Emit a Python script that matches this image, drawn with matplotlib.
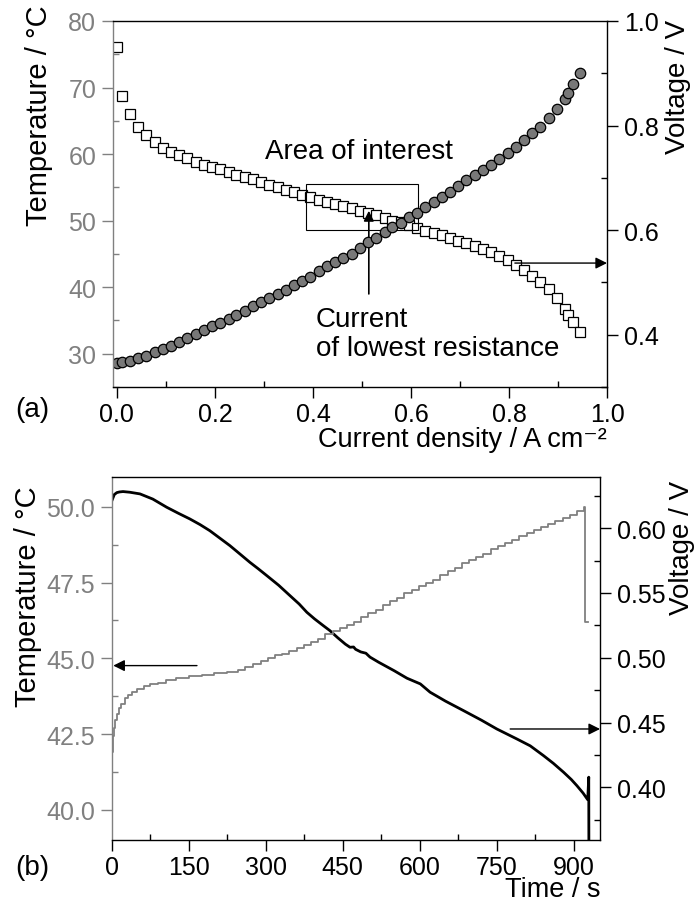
import matplotlib
matplotlib.use("Agg")
import matplotlib.pyplot as plt
from matplotlib.ticker import MultipleLocator, FormatStrFormatter
from matplotlib.patches import Rectangle

plt.rcParams['font.family'] = ['Liberation Sans', 'DejaVu Sans']

GRAY = '#808080'

# (a) polarisation curve: current density, cell temperature, cell voltage
current = [0.000, 0.010, 0.027, 0.043, 0.060, 0.077, 0.094, 0.110, 0.127, 0.144,
           0.161, 0.177, 0.194, 0.211, 0.228, 0.244, 0.261, 0.278, 0.295, 0.311,
           0.328, 0.345, 0.362, 0.378, 0.395, 0.412, 0.429, 0.445, 0.462, 0.479,
           0.495, 0.512, 0.529, 0.546, 0.562, 0.579, 0.596, 0.613, 0.629, 0.646,
           0.663, 0.680, 0.696, 0.713, 0.730, 0.747, 0.763, 0.780, 0.797, 0.814,
           0.830, 0.847, 0.864, 0.881, 0.897, 0.914, 0.921, 0.931, 0.945]
temperature = [28.6, 28.8, 28.95, 29.3, 29.65, 30.2, 30.7, 31.2, 31.7, 32.3,
               32.9, 33.5, 34.1, 34.6, 35.2, 35.8, 36.4, 37.1, 37.7, 38.3,
               38.9, 39.6, 40.4, 41.0, 41.6, 42.4, 43.2, 43.8, 44.4, 45.0,
               45.9, 46.8, 47.4, 48.3, 49.1, 49.7, 50.5, 51.2, 52.1, 52.8,
               53.5, 54.3, 55.2, 56.1, 56.8, 57.6, 58.3, 59.2, 60.1, 61.1,
               62.1, 63.1, 64.1, 65.4, 66.8, 68.3, 69.2, 70.6, 72.2]
voltage = [0.950, 0.857, 0.822, 0.798, 0.781, 0.769, 0.758, 0.750, 0.744, 0.737,
           0.731, 0.725, 0.720, 0.716, 0.711, 0.706, 0.701, 0.697, 0.692, 0.687,
           0.682, 0.677, 0.672, 0.667, 0.663, 0.658, 0.653, 0.650, 0.647, 0.643,
           0.637, 0.633, 0.628, 0.623, 0.618, 0.615, 0.610, 0.604, 0.599, 0.594,
           0.590, 0.585, 0.580, 0.576, 0.569, 0.564, 0.559, 0.551, 0.543, 0.534,
           0.524, 0.513, 0.500, 0.488, 0.470, 0.449, 0.438, 0.425, 0.405]

# (b) transient: temperature (stepwise logger) and voltage over time
temp_time = [0, 1, 2, 3, 5, 7, 10, 14, 19, 25, 32, 40, 50, 62, 75, 90, 105, 125,
             150, 175, 200, 225, 245, 260, 275, 290, 304, 318, 332, 346, 360, 374,
             388, 402, 416, 430, 444, 458, 472, 486, 500, 514, 528, 542, 556, 570,
             584, 598, 612, 626, 640, 654, 668, 682, 696, 710, 724, 738, 752, 766,
             780, 794, 808, 822, 836, 850, 864, 878, 892, 906, 920, 922, 927]
temp_vals = [41.5, 41.9, 42.2, 42.45, 42.7, 42.95, 43.15, 43.35, 43.5, 43.7, 43.8,
             43.9, 44.0, 44.1, 44.15, 44.2, 44.3, 44.35, 44.4, 44.45, 44.5, 44.55,
             44.6, 44.7, 44.8, 44.9, 45.0, 45.1, 45.15, 45.25, 45.35, 45.45, 45.55,
             45.65, 45.8, 45.9, 46.0, 46.1, 46.2, 46.35, 46.5, 46.6, 46.75, 46.9,
             47.0, 47.15, 47.25, 47.4, 47.5, 47.6, 47.75, 47.9, 48.0, 48.15, 48.25,
             48.35, 48.45, 48.6, 48.7, 48.8, 48.9, 49.05, 49.15, 49.25, 49.35,
             49.45, 49.55, 49.65, 49.75, 49.85, 50.0, 46.2, 46.2]
volt_time = [0, 5, 10, 15, 22, 35, 55, 80, 107, 130, 152, 172, 191, 210, 230, 250,
             269, 285, 302, 325, 347, 365, 380, 395, 412, 425, 440, 455, 464, 471,
             475, 485, 495, 500, 503, 520, 550, 575, 601, 620, 650, 685, 720, 750,
             789, 815, 841, 860, 880, 895, 906, 918, 927, 929, 929.5]
volt_vals = [0.621, 0.626, 0.6275, 0.628, 0.6283, 0.6278, 0.6265, 0.6225, 0.6162,
             0.6115, 0.6072, 0.6028, 0.5981, 0.5925, 0.5866, 0.5800, 0.5737, 0.5688,
             0.5634, 0.5560, 0.5480, 0.5415, 0.5351, 0.5300, 0.5248, 0.5209, 0.5155,
             0.5105, 0.5081, 0.5083, 0.5065, 0.5045, 0.5035, 0.5016, 0.5005, 0.4965,
             0.4900, 0.4842, 0.4798, 0.4734, 0.4665, 0.4592, 0.4518, 0.4450, 0.4373,
             0.4320, 0.4244, 0.4185, 0.4116, 0.4060, 0.4012, 0.3955, 0.3904, 0.4078,
             0.30]

TICK_FS = 18
LABEL_FS = 20
XLABEL_FS = 19.5
TLABEL_FS = 21   # temperature axis labels
VLABEL_FS = 20   # voltage axis labels


def style_axes(ax_l, ax_r, xmajor, xminor, lmajor, lminor, rmajor, rminor):
    # left axis grey, right axis black, ticks out for major / in for minor
    ax_l.set_zorder(ax_r.get_zorder() + 1)
    ax_l.patch.set_visible(False)
    ax_l.spines['right'].set_visible(False)
    for s in ('top', 'bottom', 'left'):
        ax_r.spines[s].set_visible(False)
    ax_l.spines['left'].set_color(GRAY)
    for sp in list(ax_l.spines.values()) + list(ax_r.spines.values()):
        sp.set_linewidth(1.0)

    ax_l.xaxis.set_major_locator(MultipleLocator(xmajor))
    ax_l.xaxis.set_minor_locator(MultipleLocator(xminor))
    ax_l.yaxis.set_major_locator(MultipleLocator(lmajor))
    ax_l.yaxis.set_minor_locator(MultipleLocator(lminor))
    ax_r.yaxis.set_major_locator(MultipleLocator(rmajor))
    ax_r.yaxis.set_minor_locator(MultipleLocator(rminor))

    ax_l.tick_params(axis='x', which='major', direction='out', length=8, width=1,
                     top=False, labelsize=TICK_FS, pad=3)
    ax_l.tick_params(axis='x', which='minor', direction='in', length=4, width=1,
                     top=False)
    ax_r.tick_params(axis='x', which='both', direction='in', length=4, width=1,
                     bottom=False, top=True, labelbottom=False, labeltop=False)
    ax_l.tick_params(axis='y', which='major', direction='out', length=8, width=1,
                     colors=GRAY, labelsize=TICK_FS, pad=4, right=False)
    ax_l.tick_params(axis='y', which='minor', direction='in', length=4, width=1,
                     colors=GRAY, right=False)
    ax_r.tick_params(axis='y', which='major', direction='out', length=8, width=1,
                     labelsize=TICK_FS, pad=4, left=False)
    ax_r.tick_params(axis='y', which='minor', direction='in', length=4, width=1,
                     left=False)


fig = plt.figure(figsize=(6.97, 9.04), dpi=100)

# ---------------- (a) ----------------
ax1 = fig.add_axes([0.1621, 0.5708, 0.7088, 0.4049])
ax2 = ax1.twinx()
style_axes(ax1, ax2, 0.2, 0.1, 10, 5, 0.2, 0.1)

ax2.plot(current, voltage, ls='none', marker='s', ms=6.5, mfc='white',
         mec='black', mew=0.9)
ax1.plot(current, temperature, ls='none', marker='o', ms=7.5, mfc='#787878',
         mec='black', mew=0.9)

ax1.set_xlim(-0.008, 1.0)
ax1.set_ylim(25, 80)
ax2.set_ylim(0.3, 1.0)
ax1.xaxis.set_major_formatter(FormatStrFormatter('%.1f'))
ax2.yaxis.set_major_formatter(FormatStrFormatter('%.1f'))

ax1.set_xlabel('Current density / A cm⁻²', fontsize=XLABEL_FS, loc='right')
ax1.xaxis.set_label_coords(1.0, -0.106)
ax1.set_ylabel('Temperature / °C', fontsize=TLABEL_FS, loc='top')
ax1.yaxis.set_label_coords(-0.121, 1.046)
ax2.set_ylabel('Voltage / V', fontsize=VLABEL_FS, loc='top')
ax2.yaxis.set_label_coords(1.117, 1.005)

# area of interest box and annotations (voltage axis coordinates)
ax2.add_patch(Rectangle((0.386, 0.600), 0.614 - 0.386, 0.688 - 0.600,
                        fill=False, ec='black', lw=0.8, zorder=3))
ax2.text(0.3077, 0.645, 'Area of interest', transform=ax2.transAxes,
         fontsize=LABEL_FS, va='center', ha='left')
ax2.text(0.411, 0.145, 'Current\nof lowest resistance', transform=ax2.transAxes,
         fontsize=LABEL_FS, va='center', ha='left', linespacing=1.15)
ax2.annotate('', xy=(0.514, 0.637), xytext=(0.514, 0.478),
             arrowprops=dict(arrowstyle='-|>', color='black', lw=1.2,
                             shrinkA=0, shrinkB=0, mutation_scale=15))
ax2.annotate('', xy=(1.0, 0.537), xytext=(0.812, 0.537),
             arrowprops=dict(arrowstyle='-|>', color='black', lw=1,
                             shrinkA=0, shrinkB=0, mutation_scale=17))

fig.text(15 / 697, 1 - 410 / 904, '(a)', fontsize=LABEL_FS, va='center', ha='left')

# ---------------- (b) ----------------
ax3 = fig.add_axes([0.1603, 0.0697, 0.7006, 0.4019])
ax4 = ax3.twinx()
style_axes(ax3, ax4, 150, 75, 2.5, 1.25, 0.05, 0.025)

ax3.plot(temp_time, temp_vals, color=GRAY, lw=1.3, drawstyle='steps-post')
ax4.plot(volt_time, volt_vals, color='black', lw=2.0)

ax3.set_xlim(0, 951)
ax3.set_ylim(39, 51)
ax4.set_ylim(0.3593, 0.6398)
ax3.yaxis.set_major_formatter(FormatStrFormatter('%.1f'))
ax4.yaxis.set_major_formatter(FormatStrFormatter('%.2f'))

ax3.set_xlabel('Time / s', fontsize=XLABEL_FS, loc='right')
ax3.xaxis.set_label_coords(1.0, -0.100)
ax3.set_ylabel('Temperature / °C', fontsize=TLABEL_FS, loc='top')
ax3.yaxis.set_label_coords(-0.143, 0.975)
ax4.set_ylabel('Voltage / V', fontsize=VLABEL_FS, loc='top')
ax4.yaxis.set_label_coords(1.142, 0.99)

ax3.annotate('', xy=(3, 44.76), xytext=(166, 44.76),
             arrowprops=dict(arrowstyle='-|>', color='black', lw=1,
                             shrinkA=0, shrinkB=0, mutation_scale=17))
ax4.annotate('', xy=(951, 0.445), xytext=(776, 0.445),
             arrowprops=dict(arrowstyle='-|>', color='black', lw=1,
                             shrinkA=0, shrinkB=0, mutation_scale=17))

fig.text(15 / 697, 1 - 868 / 904, '(b)', fontsize=LABEL_FS, va='center', ha='left')

fig.savefig('out.png', dpi=100)
